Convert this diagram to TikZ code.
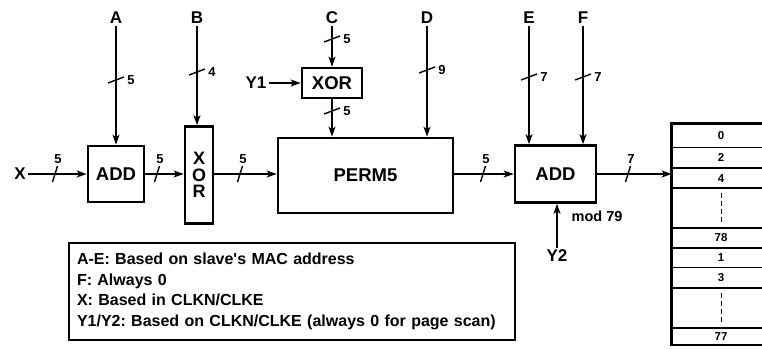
\documentclass[tikz,border=0pt]{standalone}
\usepackage{fontspec}
\setmainfont{Liberation Sans}
\usetikzlibrary{arrows.meta,positioning}
\frenchspacing
\begin{document}
\begin{tikzpicture}[
    x=1pt, y=-1pt,
    font=\bfseries,
    hopBox/.style={draw, line width=2.6pt, inner sep=0pt, align=center, font=\fontsize{18.5}{14}\selectfont\bfseries},
    hopLabel/.style={inner sep=2pt, font=\fontsize{17}{18}\selectfont\bfseries},
    hopWire/.style={line width=1.5pt, -{Stealth[length=10pt,width=7pt,inset=2.5pt]}},
    hopTick/.style={line width=1.4pt},
    hopNum/.style={inner sep=0pt, font=\fontsize{13}{14}\selectfont\bfseries},
    hopCell/.style={draw, line width=0.8pt, minimum width=98pt, inner sep=0pt, font=\fontsize{11.5}{12}\selectfont\bfseries},
    hopDots/.style={dashed, line width=0.8pt, dash pattern=on 5pt off 3pt, shorten <=5pt, shorten >=5pt},
    hopTickH/.pic={\draw[hopTick] (-2.5,8) -- (2.5,-8); \node[hopNum] (num) at (3,-15) {#1};},
    hopTickV/.pic={\draw[hopTick] (-8,3) -- (8,-3); \node[hopNum] (num) at (15,0) {#1};}
]
\useasboundingbox (0,0) rectangle (762,348);

% blocks
\node[hopBox, minimum width=56pt, minimum height=56pt] (add1) at (116,174) {ADD};
\node[hopBox, minimum width=28pt, minimum height=97pt, font=\fontsize{18}{16.5}\selectfont\bfseries] (xor1) at (199,175) {X\\O\\R};
\node[hopBox, minimum width=60pt, minimum height=30pt] (xor2) at (332,83) {XOR};
\node[hopBox, minimum width=175pt, minimum height=75pt] (perm) at (365.5,175.5) {PERM5};
\node[hopBox, minimum width=81pt, minimum height=57pt] (add2) at (555.5,174) {ADD};

% inputs
\node[hopLabel] (inA) at (116,18) {A};
\node[hopLabel] (inB) at (197,18) {B};
\node[hopLabel] (inC) at (332,18) {C};
\node[hopLabel] (inD) at (427,18) {D};
\node[hopLabel] (inE) at (529,18) {E};
\node[hopLabel] (inF) at (583,18) {F};
\node[hopLabel] (inX) at (20,174) {X};
\node[hopLabel] (inY1) at (256,83) {Y1};
\node[hopLabel] (inY2) at (557,256) {Y2};
\node[hopNum, font=\fontsize{14.5}{15}\selectfont\bfseries] (mod) at (597,216) {mod 79};

% wires
\draw[hopWire] (inA) -- (add1);
\draw[hopWire] (inB.south) -- (inB.south |- xor1.north);
\draw[hopWire] (inC) -- (xor2);
\draw[hopWire] (inY1) -- (xor2);
\draw[hopWire] (xor2) -- (perm.north -| xor2);
\draw[hopWire] (inD.south) -- (inD.south |- perm.north);
\draw[hopWire] (inE.south) -- (inE.south |- add2.north);
\draw[hopWire] (inF.south) -- (inF.south |- add2.north);
\draw[hopWire] (inY2.north) -- (inY2.north |- add2.south);
\draw[hopWire] (inX) -- (add1);
\draw[hopWire] (add1) -- (add1 -| xor1.west);
\draw[hopWire] (xor1.east |- add1) -- (perm.west |- add1);
\draw[hopWire] (perm.east |- add2) -- (add2);

% bus widths
\pic (tA) at (116,80) {hopTickV=5};
\pic (tB) at (197,72) {hopTickV=4};
\pic (tC) at (332,39) {hopTickV=5};
\pic (tP) at (332,111) {hopTickV=5};
\pic (tD) at (427,70) {hopTickV=9};
\pic (tE) at (529,77) {hopTickV=7};
\pic (tF) at (583,77) {hopTickV=7};
\pic (tX) at (55,174) {hopTickH=5};
\pic (tAdd) at (157,174) {hopTickH=5};
\pic (tXor) at (240,174) {hopTickH=5};
\pic (tPerm) at (483,174) {hopTickH=5};
\pic (tOut) at (628,174) {hopTickH=7};

% hop sequence
\node[hopCell, minimum height=23pt] (row0) at (721,135.5) {0};
\node[hopCell, minimum height=20pt, below=0pt of row0] (row2) {2};
\node[hopCell, minimum height=19pt, below=0pt of row2] (row4) {4};
\node[hopCell, minimum height=39pt, below=0pt of row4] (rowEven) {};
\node[hopCell, minimum height=19pt, below=0pt of rowEven] (row78) {78};
\node[hopCell, minimum height=19pt, below=0pt of row78] (row1) {1};
\node[hopCell, minimum height=20pt, below=0pt of row1] (row3) {3};
\node[hopCell, minimum height=39pt, below=0pt of row3] (rowOdd) {};
\node[hopCell, minimum height=16pt, below=0pt of rowOdd] (row77) {77};
\draw[line width=2.4pt] (row0.north west) rectangle (row77.south east);
\draw[hopDots] (rowEven.north) -- (rowEven.south);
\draw[hopDots] (rowOdd.north) -- (rowOdd.south);
\draw[hopWire] (add2) -- (add2 -| row0.west);

% legend
\node[draw, line width=1.3pt, minimum width=446pt, minimum height=97pt, text width=430pt, align=left, inner sep=0pt, font=\fontsize{16}{20.7}\selectfont\bfseries] (legend) at (292,291.5)
    {A-E: Based on slave\textquotesingle s MAC address\\F: Always 0\\X: Based in CLKN/CLKE\\Y1/Y2: Based on CLKN/CLKE (always 0 for page scan)};
\end{tikzpicture}
\end{document}
